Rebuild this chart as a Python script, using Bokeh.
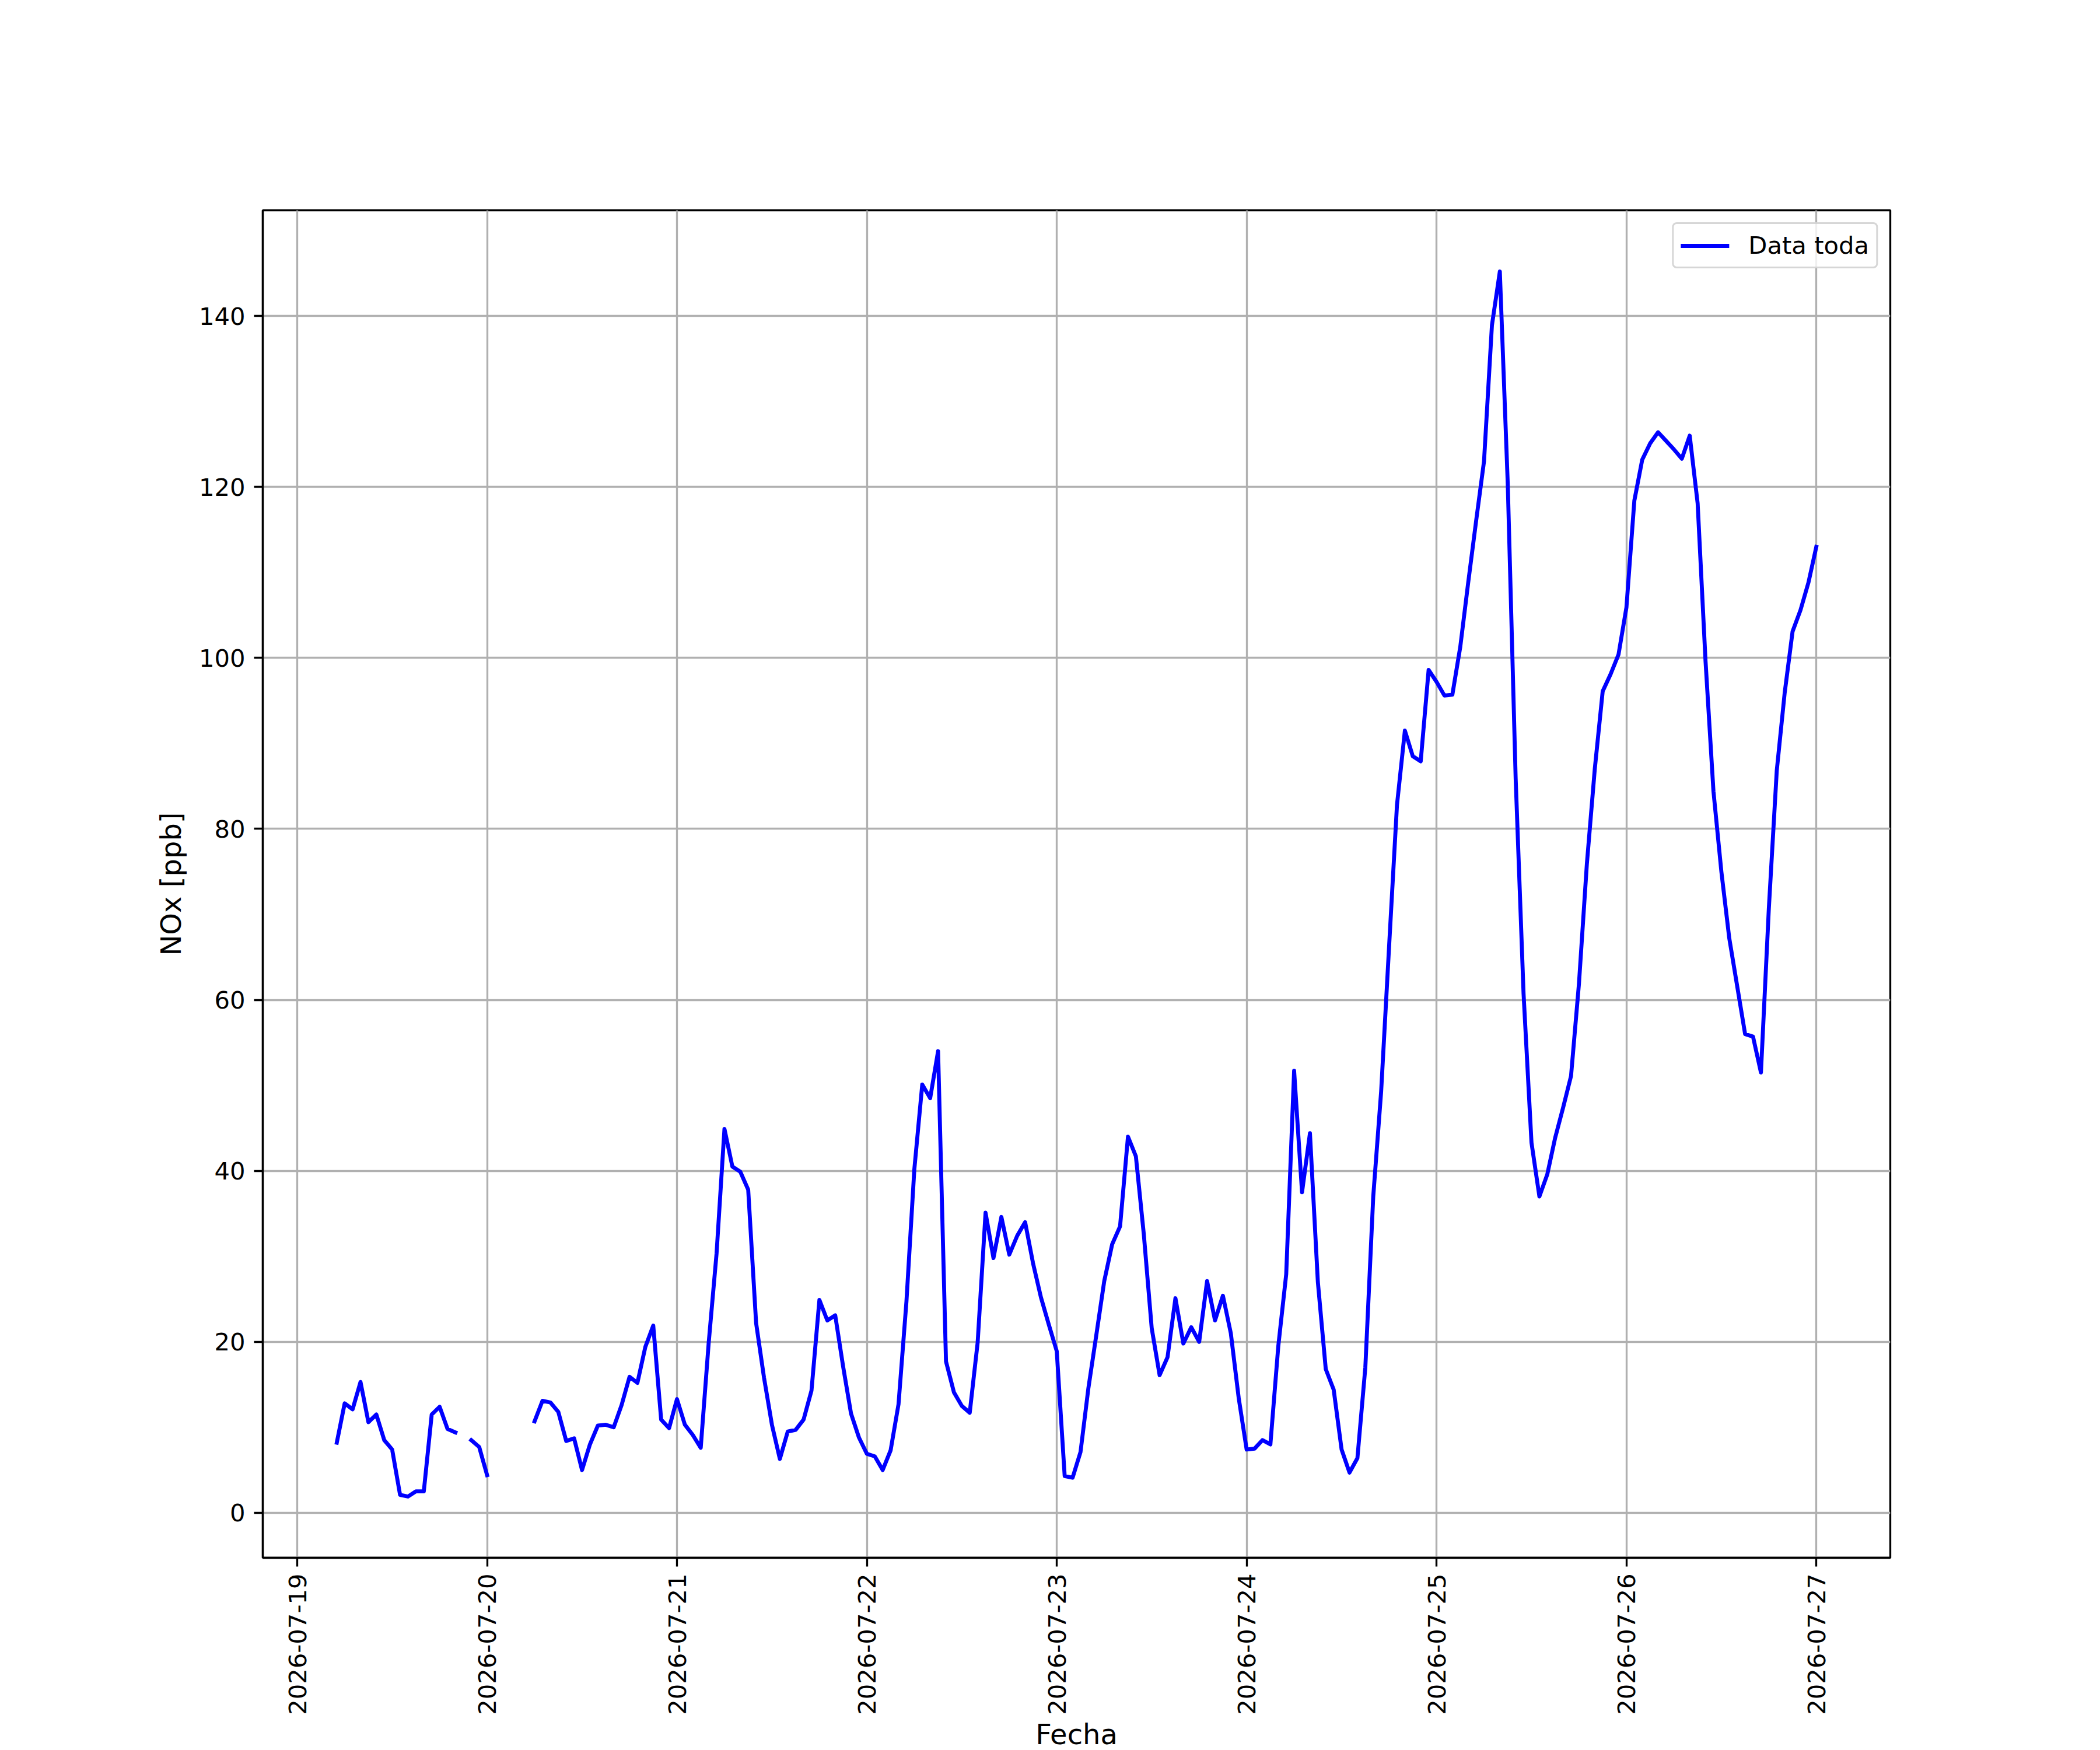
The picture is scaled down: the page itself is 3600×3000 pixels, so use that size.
import numpy as np
import pandas as pd
from math import pi
from bokeh.plotting import figure
from bokeh.models import Range1d, FixedTicker, DatetimeTickFormatter, Legend
from bokeh.embed import file_html
from bokeh.resources import INLINE

nan = float("nan")

# ---------------- data (hourly NOx, ppb) ----------------
start_time = "2026-07-19 05:00"
end_time = "2026-07-27 00:00"

nox_jul19 = [8.2, 12.8, 12.1, 15.3, 10.6, 11.5, 8.5, 7.4, 2.1, 1.9, 2.5, 2.5,
             11.5, 12.4, 9.8, 9.4, nan, 8.5, 7.7]                      # 05h..23h
nox_jul20 = [4.4, nan, nan, nan, nan, nan, 10.7, 13.1, 12.9, 11.8, 8.4, 8.7,
             5.0, 8.0, 10.2, 10.3, 10.0, 12.6, 15.9, 15.2, 19.4, 21.9, 10.9, 9.9]
nox_jul21 = [13.3, 10.3, 9.1, 7.6, 19.8, 30.3, 44.9, 40.5, 39.9, 37.8, 22.2, 15.8,
             10.3, 6.3, 9.5, 9.7, 10.9, 14.3, 24.9, 22.5, 23.1, 17.1, 11.6, 8.8]
nox_jul22 = [6.9, 6.6, 5.0, 7.3, 12.7, 24.7, 40.2, 50.1, 48.5, 54.0, 17.7, 14.1,
             12.5, 11.7, 19.9, 35.1, 29.8, 34.6, 30.2, 32.4, 34.0, 29.2, 25.2, 22.0]
nox_jul23 = [18.9, 4.3, 4.1, 7.1, 14.6, 20.8, 27.1, 31.4, 33.5, 44.0, 41.7, 32.6,
             21.6, 16.1, 18.2, 25.1, 19.8, 21.7, 20.0, 27.1, 22.5, 25.4, 21.0, 13.4]
nox_jul24 = [7.4, 7.5, 8.5, 8.0, 19.5, 27.9, 51.7, 37.5, 44.4, 27.0, 16.8, 14.4,
             7.4, 4.7, 6.4, 17.0, 37.0, 49.3, 66.2, 82.8, 91.5, 88.5, 87.9, 98.6]
nox_jul25 = [97.2, 95.6, 95.7, 101.3, 108.8, 116.0, 123.0, 138.9, 145.2, 120.4, 85.9, 60.7,
             43.3, 37.0, 39.6, 43.9, 47.4, 51.1, 61.9, 75.9, 87.0, 96.1, 98.1, 100.4]
nox_jul26 = [105.9, 118.4, 123.2, 125.1, 126.4, 125.4, 124.4, 123.3, 126.0, 118.1, 99.6, 84.4,
             75.0, 67.2, 61.6, 56.0, 55.7, 51.5, 70.7, 86.8, 95.9, 103.1, 105.6, 108.8]
nox_jul27 = [113.0]

tick_dates = ["2026-07-19", "2026-07-20", "2026-07-21", "2026-07-22", "2026-07-23",
              "2026-07-24", "2026-07-25", "2026-07-26", "2026-07-27"]
y_ticks = [0, 20, 40, 60, 80, 100, 120, 140]

series_label = "Data toda"
x_label = "Fecha"
y_label = "NOx [ppb]"

# ---------------- build ----------------
times = pd.date_range(start_time, end_time, freq="h")
values = np.array(nox_jul19 + nox_jul20 + nox_jul21 + nox_jul22 + nox_jul23 +
                  nox_jul24 + nox_jul25 + nox_jul26 + nox_jul27, dtype=float)
assert len(times) == len(values)

epoch = pd.Timestamp("1970-01-01")
ms = pd.Timedelta("1ms")
t_ms = np.array((times - epoch) // ms, dtype=float)

# matplotlib-like 5% auto margins
xs0, xs1 = t_ms.min(), t_ms.max()
xspan = xs1 - xs0
x_start, x_end = xs0 - 0.05 * xspan, xs1 + 0.05 * xspan
vmin, vmax = np.nanmin(values), np.nanmax(values)
vspan = vmax - vmin
y_start, y_end = vmin - 0.05 * vspan, vmax + 0.05 * vspan

FONT = "DejaVu Sans"
LW = 3.33

p = figure(frame_width=2790, frame_height=2310, x_axis_type="datetime",
           x_range=Range1d(x_start, x_end), y_range=Range1d(y_start, y_end),
           output_backend="svg", toolbar_location=None,
           min_border_left=450, min_border_right=352, min_border_top=360,
           min_border_bottom=322)
p.background_fill_color = "white"
p.border_fill_color = "white"
p.outline_line_color = "black"
p.outline_line_width = LW
p.outline_line_alpha = 1.0

p.line(t_ms, values, line_color="blue", line_width=6.8, line_join="round",
       line_cap="square", legend_label=series_label)

tick_ms = [float((pd.Timestamp(d) - epoch) // ms) for d in tick_dates]
p.xaxis.ticker = FixedTicker(ticks=tick_ms)
fmt = "%Y-%m-%d"
p.xaxis.formatter = DatetimeTickFormatter(
    microseconds=fmt, milliseconds=fmt, seconds=fmt, minsec=fmt, minutes=fmt,
    hourmin=fmt, hours=fmt, days=fmt, months=fmt, years=fmt, boundary_scaling=False)
p.xaxis.major_label_orientation = pi / 2
p.yaxis.ticker = FixedTicker(ticks=y_ticks)

for ax in (p.xaxis[0], p.yaxis[0]):
    ax.major_label_text_font = FONT
    ax.major_label_text_font_size = "41.7px"
    ax.major_label_text_color = "black"
    ax.major_tick_out = 15
    ax.major_tick_in = 0
    ax.major_tick_line_width = LW
    ax.major_tick_line_color = "black"
    ax.minor_tick_line_color = None
    ax.axis_line_width = LW
    ax.axis_line_color = "black"
    ax.major_label_standoff = 15
    ax.axis_label_text_font = FONT
    ax.axis_label_text_font_size = "48px"
    ax.axis_label_text_font_style = "normal"
    ax.axis_label_text_color = "black"

p.xaxis.major_label_standoff = 12
p.xaxis.axis_label = x_label
p.xaxis.axis_label_standoff = 2
p.yaxis.axis_label = y_label
p.yaxis.axis_label_standoff = 17

for g in (p.xgrid[0], p.ygrid[0]):
    g.grid_line_color = "#b0b0b0"
    g.grid_line_width = LW

leg = p.legend[0]
leg.location = "top_right"
leg.margin = 21
leg.padding = 12
leg.spacing = 0
leg.glyph_width = 83
leg.glyph_height = 20
leg.label_height = 20
leg.label_standoff = 33
leg.label_text_font = FONT
leg.label_text_font_size = "41.7px"
leg.label_text_color = "black"
leg.border_line_color = "#cccccc"
leg.border_line_alpha = 0.8
leg.border_line_width = LW
leg.background_fill_color = "white"
leg.background_fill_alpha = 0.8
if "border_radius" in Legend.properties():
    leg.border_radius = 8

open("out.html", "w").write(file_html(p, INLINE))
